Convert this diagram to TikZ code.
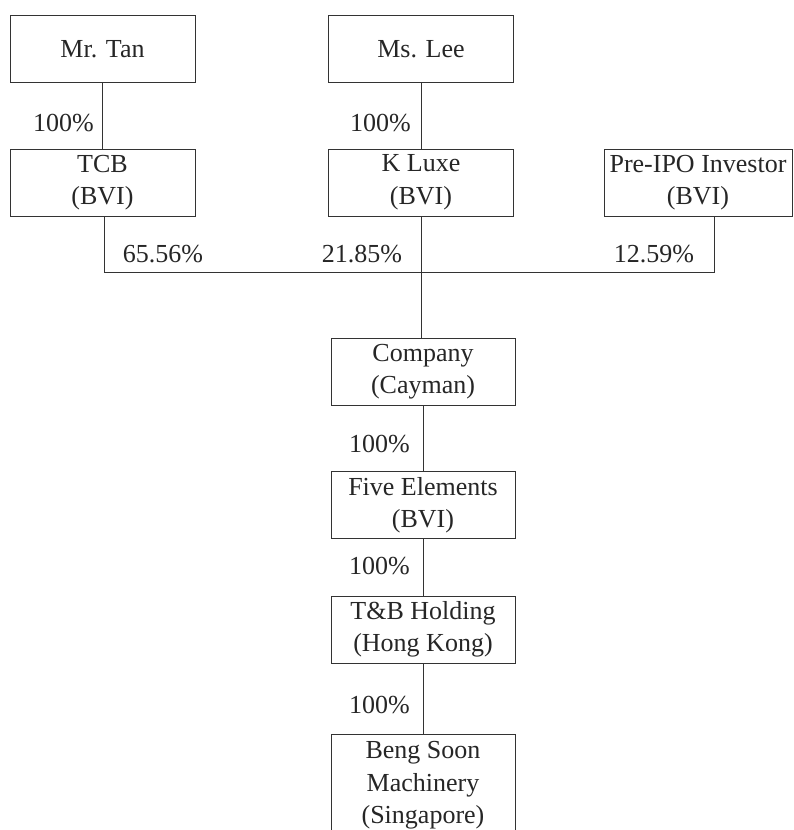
\documentclass[tikz,border=0pt]{standalone}
\usepackage{fontspec}
\setmainfont{Liberation Serif}
\begin{document}
\begin{tikzpicture}[x=1pt,y=-1pt,
  every node/.style={font=\fontsize{26}{32.5}\selectfont, text=black!85},
  entity/.style={draw=black!80, line width=0.9pt, minimum width=185pt, minimum height=67pt, align=center, inner sep=2pt},
  link/.style={draw=black!80, line width=0.9pt},
  pct/.style={inner sep=0pt}]
\useasboundingbox (0,0) rectangle (793,830);
\node[entity] (tan) at (102.5,49) {Mr. Tan};
\node[entity] (lee) at (421,49) {Ms. Lee};
\node[entity] (tcb) at (102.5,182.5) {TCB\\(BVI)};
\node[entity] (kl) at (421,182.5) {K Luxe\\(BVI)};
\node[entity, minimum width=188pt] (pre) at (698,182.5) {Pre-IPO Investor\\(BVI)};
\node[entity, minimum width=184pt] (co) at (423,371.5) {Company\\(Cayman)};
\node[entity, minimum width=184pt] (fe) at (423,505) {Five Elements\\(BVI)};
\node[entity, minimum width=184pt] (tb) at (423,629.5) {T\&B Holding\\(Hong Kong)};
\node[entity, minimum width=184pt, minimum height=0pt, inner ysep=7pt, anchor=north] (bs) at (423,734) {Beng Soon\\Machinery\\(Singapore)};
\coordinate (tcbOut) at (104,216);
\coordinate (preOut) at (714,216);
\coordinate (junL) at (104,272);
\coordinate (junR) at (714,272);
\draw[link] (tan) -- (tcb);
\draw[link] (lee) -- (kl);
\draw[link] (tcbOut) -- (junL) -- (junR) -- (preOut);
\draw[link] (kl.south) -- (co.north -| kl.south);
\draw[link] (co) -- (fe);
\draw[link] (fe) -- (tb);
\draw[link] (tb) -- (bs);
\node[pct, anchor=east] (p1) at (94,123) {100\%};
\node[pct, anchor=east] (p2) at (411,123) {100\%};
\node[pct] (p3) at (163,254) {65.56\%};
\node[pct] (p4) at (362,254) {21.85\%};
\node[pct] (p5) at (654,254) {12.59\%};
\node[pct, anchor=east] (p6) at (410,444) {100\%};
\node[pct, anchor=east] (p7) at (410,566) {100\%};
\node[pct, anchor=east] (p8) at (410,705) {100\%};
\end{tikzpicture}
\end{document}
